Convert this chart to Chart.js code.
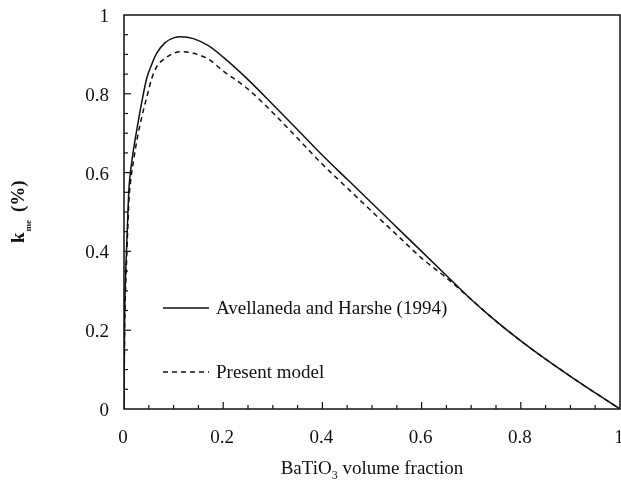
<!DOCTYPE html>
<html>
<head>
<meta charset="utf-8">
<script src="https://cdn.jsdelivr.net/npm/chart.js@4"></script>
<style>
  body { margin: 0; background: #fff; }
  canvas { display: block; }
</style>
</head>
<body>
<canvas id="myChart" width="621" height="484"></canvas>
<script>
// volume fraction of BaTiO3
var xFrac = [0, 0.001, 0.003, 0.005, 0.01, 0.013, 0.019, 0.026, 0.036, 0.046, 0.056, 0.066, 0.083, 0.1, 0.114, 0.14, 0.17, 0.2, 0.25, 0.3, 0.35, 0.4, 0.45, 0.5, 0.55, 0.6, 0.65, 0.7, 0.75, 0.8, 0.85, 0.9, 0.95, 1];
// Avellaneda and Harshe (1994), solid
var avellaneda = [0, 0.2, 0.33, 0.40, 0.56, 0.60, 0.657, 0.71, 0.78, 0.84, 0.875, 0.903, 0.93, 0.942, 0.945, 0.94, 0.922, 0.893, 0.836, 0.773, 0.709, 0.644, 0.583, 0.522, 0.461, 0.40, 0.339, 0.278, 0.223, 0.173, 0.1265, 0.083, 0.041, 0];
// present model, dashed
var present = [0, 0.17, 0.30, 0.37, 0.53, 0.575, 0.628, 0.682, 0.742, 0.792, 0.839, 0.869, 0.89, 0.903, 0.907, 0.903, 0.888, 0.858, 0.812, 0.752, 0.687, 0.621, 0.561, 0.501, 0.442, 0.383, 0.333, 0.278, 0.223, 0.173, 0.1265, 0.083, 0.041, 0];

var xTicks = [0, 0.2, 0.4, 0.6, 0.8, 1];
var xTickLabels = ['0', '0.2', '0.4', '0.6', '0.8', '1'];
var yTicks = [0, 0.2, 0.4, 0.6, 0.8, 1];
var yTickLabels = ['0', '0.2', '0.4', '0.6', '0.8', '1'];
var seriesNames = ['Avellaneda and Harshe (1994)', 'Present model'];

function pts(ys) {
  var out = [];
  for (var i = 0; i < xFrac.length; i++) out.push({x: xFrac[i], y: ys[i]});
  return out;
}

var serif = '"Liberation Serif", "DejaVu Serif", serif';

var framePlugin = {
  id: 'frame',
  afterDraw: function(chart) {
    var ctx = chart.ctx;
    var a = chart.chartArea;
    var sx = chart.scales.x, sy = chart.scales.y;
    ctx.save();
    ctx.strokeStyle = '#111';
    ctx.fillStyle = '#111';
    ctx.lineWidth = 1.5;
    ctx.strokeRect(a.left, a.top, a.right - a.left, a.bottom - a.top);

    // inward ticks, minor every 0.05
    ctx.lineWidth = 1.2;
    for (var t = 0.05; t < 1; t += 0.05) {
      var major = Math.abs(t * 5 - Math.round(t * 5)) < 1e-6;
      var len = major ? 7 : 4;
      var px = sx.getPixelForValue(t);
      ctx.beginPath(); ctx.moveTo(px, a.bottom); ctx.lineTo(px, a.bottom - len); ctx.stroke();
      var py = sy.getPixelForValue(t);
      ctx.beginPath(); ctx.moveTo(a.left, py); ctx.lineTo(a.left + len, py); ctx.stroke();
    }

    // tick labels
    ctx.font = '19px ' + serif;
    ctx.textAlign = 'center';
    ctx.textBaseline = 'alphabetic';
    for (var i = 0; i < xTicks.length; i++) {
      ctx.fillText(xTickLabels[i], sx.getPixelForValue(xTicks[i]) - 1, 443);
    }
    ctx.textAlign = 'right';
    ctx.textBaseline = 'middle';
    for (var j = 0; j < yTicks.length; j++) {
      ctx.fillText(yTickLabels[j], 109, sy.getPixelForValue(yTicks[j]) + 2);
    }

    // x title with subscript
    ctx.textAlign = 'left';
    ctx.textBaseline = 'alphabetic';
    ctx.font = '19px ' + serif;
    var w1 = ctx.measureText('BaTiO').width;
    var w3 = ctx.measureText(' volume fraction').width;
    ctx.font = '12px ' + serif;
    var w2 = ctx.measureText('3').width;
    var cx = (a.left + a.right) / 2;
    var x0 = cx - (w1 + w2 + w3) / 2;
    ctx.font = '19px ' + serif;
    ctx.fillText('BaTiO', x0, 474);
    ctx.font = '12px ' + serif;
    ctx.fillText('3', x0 + w1, 479);
    ctx.font = '19px ' + serif;
    ctx.fillText(' volume fraction', x0 + w1 + w2, 474);

    // y title k_me (%)
    ctx.save();
    ctx.translate(24, 243);
    ctx.rotate(-Math.PI / 2);
    ctx.font = 'bold 19px ' + serif;
    ctx.fillText('k', 0, 0);
    var kw = ctx.measureText('k').width;
    ctx.font = 'bold 9px ' + serif;
    ctx.fillText('me', kw + 1, 7);
    ctx.font = 'bold 19px ' + serif;
    ctx.fillText('(%)', 31, 0);
    ctx.restore();

    // legend
    ctx.lineWidth = 1.4;
    ctx.beginPath(); ctx.moveTo(163, 308); ctx.lineTo(209, 308); ctx.stroke();
    ctx.setLineDash([5, 4]);
    ctx.beginPath(); ctx.moveTo(163, 372); ctx.lineTo(209, 372); ctx.stroke();
    ctx.setLineDash([]);
    ctx.font = '19px ' + serif;
    ctx.textBaseline = 'middle';
    ctx.fillText(seriesNames[0], 216, 309);
    ctx.fillText(seriesNames[1], 216, 373);
    ctx.restore();
  }
};

var ctx = document.getElementById('myChart').getContext('2d');

var chart = new Chart(ctx, {
  type: 'scatter',
  data: {
    datasets: [{
      label: seriesNames[0],
      data: pts(avellaneda),
      showLine: true,
      borderColor: '#111',
      borderWidth: 1.5,
      pointRadius: 0,
      cubicInterpolationMode: 'monotone'
    }, {
      label: seriesNames[1],
      data: pts(present),
      showLine: true,
      borderColor: '#111',
      borderWidth: 1.5,
      borderDash: [5, 4],
      pointRadius: 0,
      cubicInterpolationMode: 'monotone'
    }]
  },
  options: {
    responsive: false,
    animation: false,
    layout: { padding: { left: 124, right: 1, top: 15, bottom: 75 } },
    plugins: { legend: { display: false }, tooltip: { enabled: false } },
    scales: {
      x: { type: 'linear', min: 0, max: 1, display: false },
      y: { type: 'linear', min: 0, max: 1, display: false }
    }
  },
  plugins: [framePlugin]
});
</script>
</body>
</html>
